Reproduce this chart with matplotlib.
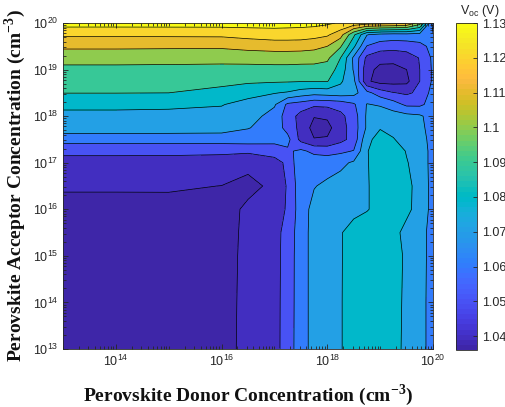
import numpy as np
import matplotlib
matplotlib.use("Agg")
import matplotlib.pyplot as plt
from matplotlib.colors import ListedColormap, Normalize
from matplotlib.cm import ScalarMappable
from matplotlib.ticker import FixedLocator, NullFormatter

# parula (64 entries)
parula_data = [
    [0.2422, 0.1504, 0.6603], [0.2504, 0.1650, 0.7076], [0.2578, 0.1818, 0.7511], [0.2647, 0.1978, 0.7952],
    [0.2706, 0.2147, 0.8364], [0.2751, 0.2342, 0.8710], [0.2783, 0.2559, 0.8991], [0.2803, 0.2782, 0.9221],
    [0.2813, 0.3006, 0.9414], [0.2810, 0.3228, 0.9579], [0.2795, 0.3447, 0.9717], [0.2760, 0.3667, 0.9829],
    [0.2699, 0.3892, 0.9906], [0.2602, 0.4123, 0.9952], [0.2440, 0.4358, 0.9988], [0.2206, 0.4603, 0.9973],
    [0.1963, 0.4847, 0.9892], [0.1834, 0.5074, 0.9798], [0.1786, 0.5289, 0.9682], [0.1764, 0.5499, 0.9520],
    [0.1687, 0.5703, 0.9359], [0.1540, 0.5902, 0.9218], [0.1460, 0.6091, 0.9079], [0.1380, 0.6276, 0.8973],
    [0.1248, 0.6459, 0.8883], [0.1113, 0.6635, 0.8763], [0.0952, 0.6798, 0.8598], [0.0689, 0.6948, 0.8394],
    [0.0297, 0.7082, 0.8163], [0.0036, 0.7203, 0.7917], [0.0067, 0.7312, 0.7660], [0.0433, 0.7411, 0.7394],
    [0.0964, 0.7500, 0.7120], [0.1408, 0.7584, 0.6842], [0.1717, 0.7670, 0.6554], [0.1938, 0.7758, 0.6251],
    [0.2161, 0.7849, 0.5923], [0.2470, 0.7918, 0.5567], [0.2906, 0.7958, 0.5191], [0.3406, 0.7993, 0.4789],
    [0.3909, 0.8024, 0.4354], [0.4456, 0.8024, 0.3900], [0.5044, 0.7993, 0.3480], [0.5616, 0.7942, 0.3045],
    [0.6174, 0.7876, 0.2612], [0.6720, 0.7793, 0.2227], [0.7242, 0.7698, 0.1910], [0.7738, 0.7598, 0.1646],
    [0.8203, 0.7498, 0.1535], [0.8634, 0.7406, 0.1596], [0.9035, 0.7330, 0.1774], [0.9393, 0.7288, 0.2100],
    [0.9728, 0.7298, 0.2394], [0.9956, 0.7434, 0.2371], [0.9970, 0.7659, 0.2199], [0.9952, 0.7893, 0.2028],
    [0.9892, 0.8136, 0.1885], [0.9786, 0.8386, 0.1766], [0.9676, 0.8639, 0.1643], [0.9610, 0.8890, 0.1537],
    [0.9597, 0.9135, 0.1423], [0.9628, 0.9373, 0.1265], [0.9691, 0.9606, 0.1064], [0.9769, 0.9839, 0.0805],
]
parula = ListedColormap(parula_data, name="parula")

# log10 of donor (x) and acceptor (y) concentration, cm^-3
log_nd = [13, 14, 15, 16, 16.5, 17, 17.25, 17.5, 17.75, 18, 18.25, 18.5, 18.75, 19, 19.25, 19.5, 19.75, 20]
log_na = [13, 14, 15, 15.5, 16, 16.5, 17, 17.25, 17.5, 17.75, 18, 18.25, 18.5, 18.75, 19, 19.25, 19.5, 19.75, 20]

# Voc (V), one row per acceptor concentration
voc = [
    [1.037, 1.037, 1.037, 1.037, 1.0424, 1.046, 1.0555, 1.065, 1.074, 1.077, 1.0795, 1.0835, 1.085, 1.085, 1.0835, 1.0775, 1.0735, 1.066],
    [1.037, 1.037, 1.037, 1.037, 1.0422, 1.046, 1.0552, 1.065, 1.074, 1.077, 1.0795, 1.0835, 1.0852, 1.0852, 1.0838, 1.0778, 1.0735, 1.066],
    [1.037, 1.037, 1.037, 1.0372, 1.0418, 1.0458, 1.055, 1.065, 1.074, 1.077, 1.0795, 1.083, 1.085, 1.0855, 1.0835, 1.0785, 1.074, 1.066],
    [1.037, 1.037, 1.037, 1.0373, 1.0415, 1.0457, 1.0545, 1.065, 1.074, 1.077, 1.0795, 1.0828, 1.0848, 1.0855, 1.082, 1.078, 1.074, 1.066],
    [1.0372, 1.0372, 1.0373, 1.0375, 1.0411, 1.0455, 1.0511, 1.0655, 1.073, 1.0755, 1.077, 1.078, 1.0795, 1.0825, 1.0825, 1.0815, 1.0775, 1.066],
    [1.041, 1.041, 1.041, 1.0399, 1.0385, 1.0412, 1.0512, 1.0659, 1.0695, 1.072, 1.0745, 1.077, 1.0795, 1.0825, 1.083, 1.0818, 1.0775, 1.066],
    [1.0465, 1.0465, 1.0465, 1.0455, 1.0415, 1.047, 1.0517, 1.069, 1.066, 1.0655, 1.0675, 1.0715, 1.0795, 1.0835, 1.0835, 1.0805, 1.0765, 1.066],
    [1.0523, 1.0523, 1.0522, 1.052, 1.052, 1.0535, 1.0585, 1.062, 1.0575, 1.0565, 1.058, 1.0605, 1.0795, 1.0845, 1.0845, 1.0795, 1.0765, 1.066],
    [1.0643, 1.0643, 1.0643, 1.0645, 1.065, 1.064, 1.063, 1.047, 1.0405, 1.041, 1.047, 1.0535, 1.078, 1.083, 1.0805, 1.0765, 1.0745, 1.066],
    [1.0753, 1.0753, 1.0752, 1.0745, 1.0705, 1.0655, 1.0565, 1.047, 1.0365, 1.037, 1.046, 1.0545, 1.0715, 1.0795, 1.0775, 1.075, 1.0725, 1.066],
    [1.078, 1.078, 1.0778, 1.077, 1.0745, 1.066, 1.0555, 1.0465, 1.0405, 1.0415, 1.0475, 1.055, 1.0715, 1.0755, 1.0745, 1.073, 1.0715, 1.0655],
    [1.0818, 1.0818, 1.0815, 1.0805, 1.0765, 1.0712, 1.058, 1.0555, 1.052, 1.0525, 1.054, 1.0585, 1.0705, 1.069, 1.0645, 1.058, 1.058, 1.064],
    [1.0902, 1.0902, 1.09, 1.0875, 1.0835, 1.0805, 1.079, 1.0755, 1.0735, 1.0745, 1.0755, 1.0735, 1.063, 1.055, 1.0505, 1.0485, 1.052, 1.064],
    [1.093, 1.093, 1.0928, 1.0922, 1.0915, 1.091, 1.0908, 1.0905, 1.0905, 1.0905, 1.0815, 1.0725, 1.0415, 1.0365, 1.0365, 1.0375, 1.05, 1.0615],
    [1.097, 1.097, 1.0968, 1.0965, 1.097, 1.0975, 1.0975, 1.097, 1.0968, 1.0955, 1.086, 1.069, 1.043, 1.0375, 1.0375, 1.04, 1.05, 1.0615],
    [1.1045, 1.1045, 1.1042, 1.1038, 1.1035, 1.1035, 1.1035, 1.1035, 1.1035, 1.102, 1.09, 1.068, 1.0475, 1.043, 1.0425, 1.045, 1.0505, 1.062],
    [1.1117, 1.1117, 1.1115, 1.1115, 1.1135, 1.115, 1.115, 1.1145, 1.113, 1.11, 1.101, 1.082, 1.0595, 1.055, 1.054, 1.0545, 1.057, 1.063],
    [1.1216, 1.1216, 1.1218, 1.122, 1.1235, 1.1245, 1.1245, 1.1245, 1.1235, 1.1215, 1.114, 1.092, 1.0705, 1.067, 1.066, 1.0665, 1.066, 1.0605],
    [1.1345, 1.1345, 1.1345, 1.1345, 1.1345, 1.1345, 1.134, 1.1335, 1.133, 1.1315, 1.129, 1.127, 1.1255, 1.1245, 1.1235, 1.121, 1.105, 1.056],
]

levels = [1.03, 1.04, 1.05, 1.06, 1.07, 1.08, 1.09, 1.10, 1.11, 1.12, 1.13, 1.14]
cbar_ticks = [1.04, 1.05, 1.06, 1.07, 1.08, 1.09, 1.10, 1.11, 1.12, 1.13]
vmin, vmax = 1.036, 1.13

axis_col = "#262626"
plt.rcParams["font.family"] = ["Liberation Sans", "DejaVu Sans"]

fig = plt.figure(figsize=(5.06, 4.07), dpi=100)
ax = fig.add_axes([63 / 506, 1 - 349 / 407, 370 / 506, 326 / 407])
cax = fig.add_axes([456 / 506, 1 - 350 / 407, 21 / 506, 327 / 407])

norm = Normalize(vmin=vmin, vmax=vmax)
# MATLAB style: each band gets the colour of its lower level
fill_cols = [parula(norm(max(lv, vmin))) for lv in levels[:-1]]

ax.contourf(log_nd, log_na, voc, levels=levels, colors=fill_cols)
ax.contour(log_nd, log_na, voc, levels=levels[1:-1], colors="k", linewidths=0.5)

ax.set_xlim(13, 20)
ax.set_ylim(13, 20)

# log style ticks
x_major = [14, 16, 18, 20]
y_major = list(range(13, 21))
minor = [d + np.log10(k) for d in range(13, 20) for k in range(1, 10)]
x_minor = [m for m in minor if m not in x_major]
y_minor = [m for m in minor if m not in y_major]
ax.xaxis.set_major_locator(FixedLocator(x_major))
ax.yaxis.set_major_locator(FixedLocator(y_major))
ax.xaxis.set_minor_locator(FixedLocator(x_minor))
ax.yaxis.set_minor_locator(FixedLocator(y_minor))
ax.xaxis.set_minor_formatter(NullFormatter())
ax.yaxis.set_minor_formatter(NullFormatter())
ax.set_xticklabels([r"$\mathregular{10^{%d}}$" % v for v in x_major])
ax.set_yticklabels([r"$\mathregular{10^{%d}}$" % v for v in y_major])
ax.tick_params(which="both", direction="in", top=True, right=True,
               colors=axis_col, labelsize=9, width=0.6)
ax.tick_params(which="major", length=3.5)
ax.tick_params(which="minor", length=2)
for s in ax.spines.values():
    s.set_color(axis_col)
    s.set_linewidth(0.6)

cb = fig.colorbar(ScalarMappable(norm=norm, cmap=parula), cax=cax)
cb.set_ticks(cbar_ticks)
cb.set_ticklabels(["%g" % t for t in cbar_ticks])
cax.tick_params(direction="in", length=3, colors=axis_col, labelsize=9, width=0.6)
cb.outline.set_edgecolor(axis_col)
cb.outline.set_linewidth(0.6)
fig.text(480 / 506, 1 - 11 / 407, r"V$_{\mathregular{oc}}$ (V)", ha="center", va="center",
         fontsize=9, color=axis_col)

lab_font = dict(family="Liberation Serif", weight="bold", fontsize=14, color="#111111")
fig.text(248 / 506, 1 - 395 / 407, r"Perovskite Donor Concentration (cm$^{\mathregular{-3}}$)",
         ha="center", va="center", **lab_font)
fig.text(15 / 506, 1 - 186 / 407, r"Perovskite Acceptor Concentration (cm$^{\mathregular{-3}}$)",
         ha="center", va="center", rotation=90, **lab_font)

fig.savefig("out.png", dpi=100)
